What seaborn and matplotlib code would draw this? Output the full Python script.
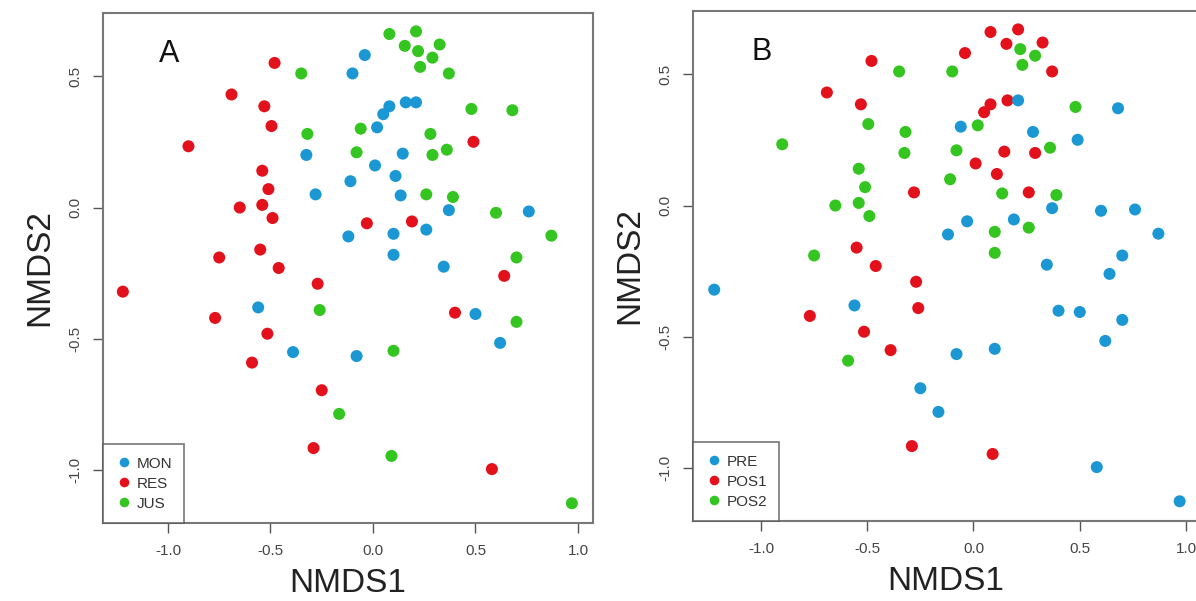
import numpy as np
import pandas as pd
import seaborn as sns
import matplotlib.pyplot as plt

# NMDS coordinates (same samples in both panels)
nmds1 = [-0.48, -0.35, -0.04, -0.10, 0.08, -0.69, -0.53, -0.495, -0.32, -0.06,
         0.02, 0.05, 0.08, -0.90, -0.325, -0.08, 0.01, 0.11, -0.54, -0.51,
         -0.11, -0.28, -0.65, -0.54, -0.49, -0.03, -0.12, 0.10, -0.55, -0.75,
         0.10, -0.46, 0.21, 0.155, 0.22, 0.325, 0.29, 0.23, 0.37, 0.16,
         0.21, 0.48, 0.68, 0.28, 0.49, 0.145, 0.29, 0.36, 0.135, 0.26,
         0.39, 0.37, 0.60, 0.76, 0.19, 0.26, 0.87, 0.70, 0.345, -1.22,
         -0.27, -0.56, -0.26, -0.77, -0.515, -0.39, -0.08, 0.10, -0.59, -0.25,
         -0.165, -0.29, 0.09, 0.64, 0.40, 0.50, 0.70, 0.62, 0.58, 0.97]
nmds2 = [0.55, 0.51, 0.58, 0.51, 0.66, 0.43, 0.385, 0.31, 0.28, 0.30,
         0.305, 0.355, 0.385, 0.233, 0.20, 0.21, 0.16, 0.12, 0.14, 0.07,
         0.10, 0.05, 0.0, 0.01, -0.04, -0.06, -0.11, -0.10, -0.16, -0.19,
         -0.18, -0.23, 0.67, 0.615, 0.595, 0.62, 0.57, 0.535, 0.51, 0.40,
         0.40, 0.375, 0.37, 0.28, 0.25, 0.205, 0.20, 0.22, 0.046, 0.05,
         0.04, -0.01, -0.02, -0.015, -0.053, -0.084, -0.107, -0.19, -0.225, -0.32,
         -0.29, -0.38, -0.39, -0.42, -0.48, -0.55, -0.565, -0.545, -0.59, -0.695,
         -0.785, -0.915, -0.945, -0.26, -0.40, -0.405, -0.435, -0.515, -0.995, -1.125]

site = ["RES", "JUS", "MON", "MON", "JUS", "RES", "RES", "RES", "JUS", "JUS",
        "MON", "MON", "MON", "RES", "MON", "JUS", "MON", "MON", "RES", "RES",
        "MON", "MON", "RES", "RES", "RES", "RES", "MON", "MON", "RES", "RES",
        "MON", "RES", "JUS", "JUS", "JUS", "JUS", "JUS", "JUS", "JUS", "MON",
        "MON", "JUS", "JUS", "JUS", "RES", "MON", "JUS", "JUS", "MON", "JUS",
        "JUS", "MON", "JUS", "MON", "RES", "MON", "JUS", "JUS", "MON", "RES",
        "RES", "MON", "JUS", "RES", "RES", "MON", "MON", "JUS", "RES", "RES",
        "JUS", "RES", "JUS", "RES", "RES", "MON", "JUS", "MON", "RES", "JUS"]
period = ["POS1", "POS2", "POS1", "POS2", "POS1", "POS1", "POS1", "POS2", "POS2", "PRE",
          "POS2", "POS1", "POS1", "POS2", "POS2", "POS2", "POS1", "POS1", "POS2", "POS2",
          "POS2", "POS1", "POS2", "POS2", "POS2", "PRE", "PRE", "POS2", "POS1", "POS2",
          "POS2", "POS1", "POS1", "POS1", "POS2", "POS1", "POS2", "POS2", "POS1", "POS1",
          "PRE", "POS2", "PRE", "PRE", "PRE", "POS1", "POS1", "POS2", "POS2", "POS1",
          "POS2", "PRE", "PRE", "PRE", "PRE", "POS2", "PRE", "PRE", "PRE", "PRE",
          "POS1", "PRE", "POS1", "POS1", "POS1", "POS1", "PRE", "PRE", "POS2", "PRE",
          "PRE", "POS1", "POS1", "PRE", "PRE", "PRE", "PRE", "PRE", "PRE", "PRE"]

site_order = ["MON", "RES", "JUS"]
period_order = ["PRE", "POS1", "POS2"]
cols = ["#1B98D4", "#E3111B", "#34C520"]

df = pd.DataFrame({"NMDS1": nmds1, "NMDS2": nmds2, "site": site, "period": period})

sns.set_style("white")
plt.rcParams["font.family"] = ["Liberation Sans", "DejaVu Sans"]

fig = plt.figure(figsize=(11.96, 6.01), dpi=100)
ax_a = fig.add_axes([0.0861, 0.1298, 0.4097, 0.8486])
ax_b = fig.add_axes([0.5794, 0.1331, 0.4231, 0.8486])

panels = [(ax_a, "site", site_order, "A", (-1.317, 1.073)),
          (ax_b, "period", period_order, "B", (-1.32, 1.061))]

for ax, grp, order, letter, xl in panels:
    sns.scatterplot(data=df, x="NMDS1", y="NMDS2", hue=grp, hue_order=order,
                    palette=cols, s=75, edgecolor="none", ax=ax)
    ax.set_xlim(*xl)
    ax.set_ylim(-1.2, 0.74)
    ax.set_xticks([-1.0, -0.5, 0.0, 0.5, 1.0])
    ax.set_xticklabels(["-1.0", "-0.5", "0.0", "0.5", "1.0"])
    ax.set_yticks([-1.0, -0.5, 0.0, 0.5])
    ax.set_yticklabels(["-1.0", "-0.5", "0.0", "0.5"], rotation=90, va="center")
    ax.tick_params(axis="both", direction="out", length=7, width=1, color="#555555",
                   labelsize=11, labelcolor="#444444", pad=8, bottom=True, left=True)
    for sp in ax.spines.values():
        sp.set_color("#777777")
        sp.set_linewidth(1.5)
    ax.set_xlabel("NMDS1", fontsize=24, color="#222222", labelpad=7)
    ax.set_ylabel("NMDS2", fontsize=24, color="#222222", labelpad=9)
    ax.text(0.135, 0.92, letter, transform=ax.transAxes, fontsize=22,
            ha="center", va="center", color="#111111")
    h, l = ax.get_legend_handles_labels()
    leg = ax.legend(h, l, loc="lower left", borderaxespad=0, fancybox=False,
                    frameon=True, fontsize=11, handletextpad=0.2, markerscale=0.8,
                    borderpad=0.8, labelspacing=0.4, handlelength=1.2)
    leg.get_frame().set_edgecolor("#555555")
    leg.get_frame().set_linewidth(1.2)
    for t in leg.get_texts():
        t.set_color("#333333")

fig.savefig("out.png", dpi=100)
